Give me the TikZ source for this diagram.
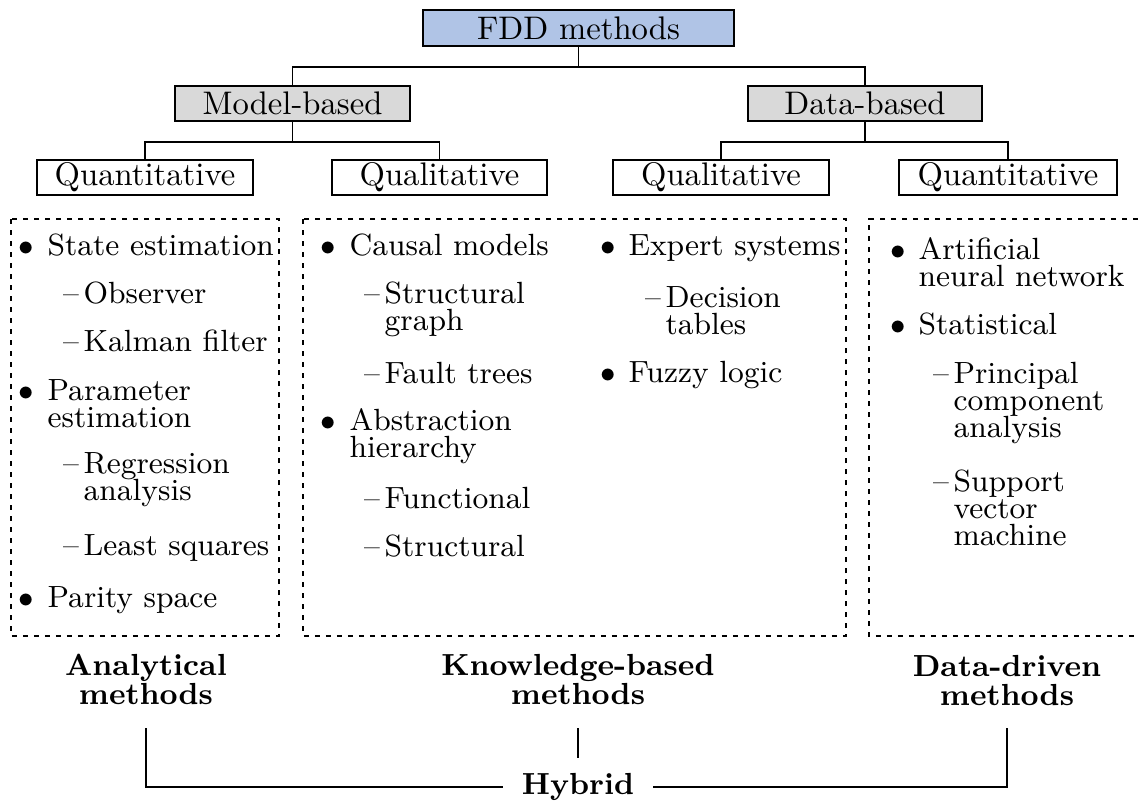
\documentclass[tikz,border=0pt]{standalone}
\usetikzlibrary{calc}
\definecolor{fddblue}{RGB}{176,196,230}
\definecolor{groupgray}{RGB}{217,217,217}
% lines of one list entry, stacked with a fixed baseline distance
\newcommand\stack[1]{\vtop{\baselineskip=8.1pt\lineskiplimit=-100pt\lineskip=0pt\halign{##\hfil\cr#1\crcr}}}
\begin{document}
\begin{tikzpicture}[x=0.3pt,y=-0.3pt,
  box/.style={draw,line width=0.6pt,inner sep=0pt,font=\fontsize{9.8}{11}\selectfont},
  rootbox/.style={box,fill=fddblue,minimum width=93.3pt,minimum height=10.8pt},
  familybox/.style={box,fill=groupgray,minimum width=70.4pt,minimum height=10.5pt},
  kindbox/.style={box,fill=white,minimum height=10.5pt},
  link/.style={line width=0.5pt},
  group/.style={line width=0.5pt,dash pattern=on 1.6pt off 1.7pt},
  itm/.style={anchor=base west,inner sep=0pt,font=\fontsize{9.2}{8.1}\selectfont},
  bulletmark/.style={anchor=base,inner sep=0pt,font=\fontsize{9.2}{8.1}\selectfont},
  cat/.style={inner sep=0pt,align=center,font=\fontsize{9.15}{8.7}\selectfont\bfseries}]
\useasboundingbox (0,0) rectangle (1138,800);

% ---- tree of method families
\node[rootbox] (fdd) at (578.5,28) {FDD methods};
\node[familybox] (mb) at (292.5,103.5) {Model-based};
\node[familybox] (db) at (865,103.5) {Data-based};
\node[kindbox,minimum width=64.8pt] (q1) at (145,177.5) {Quantitative};
\node[kindbox,minimum width=64.5pt] (l1) at (439.5,177.5) {Qualitative};
\node[kindbox,minimum width=64.8pt] (l2) at (721,177.5) {Qualitative};
\node[kindbox,minimum width=65.4pt] (q2) at (1008,177.5) {Quantitative};

\draw[link] (fdd.south) -- ++(0,20) coordinate (j0);
\draw[link] (j0) -| (mb.north);
\draw[link] (j0) -| (db.north);
\draw[link] (mb.south) -- ++(0,20) coordinate (j1);
\draw[link] (j1) -| (q1.north);
\draw[link] (j1) -| (l1.north);
\draw[link] (db.south) -- ++(0,20) coordinate (j2);
\draw[link] (j2) -| (l2.north);
\draw[link] (j2) -| (q2.north);

% ---- groups of methods
\draw[group] (11,219) rectangle (279,636);
\draw[group] (303,219) rectangle (846,636);
\draw[group] (1138,219) -- (869,219) -- (869,636) -- (1138,636);

% analytical methods
\node[bulletmark] (ab1) at (26,255) {$\bullet$};
\node[itm] (a1) at (47,255) {State estimation};
\node[bulletmark] (ad1) at (71,303) {\textendash};
\node[itm] (a11) at (83,303) {Observer};
\node[bulletmark] (ad2) at (71,351) {\textendash};
\node[itm] (a12) at (83,351) {Kalman filter};
\node[bulletmark] (ab2) at (26,400) {$\bullet$};
\node[itm] (a2) at (47,400) {\stack{Parameter\cr estimation}};
\node[bulletmark] (ad3) at (71,473) {\textendash};
\node[itm] (a21) at (83,473) {\stack{Regression\cr analysis}};
\node[bulletmark] (ad4) at (71,555) {\textendash};
\node[itm] (a22) at (83,555) {Least squares};
\node[bulletmark] (ab3) at (26,607) {$\bullet$};
\node[itm] (a3) at (47,607) {Parity space};

% knowledge-based methods, first column
\node[bulletmark] (kb1) at (328,255) {$\bullet$};
\node[itm] (k1) at (349,255) {Causal models};
\node[bulletmark] (kd1) at (372,303) {\textendash};
\node[itm] (k11) at (384,303) {\stack{Structural\cr graph}};
\node[bulletmark] (kd2) at (372,383) {\textendash};
\node[itm] (k12) at (384,383) {Fault trees};
\node[bulletmark] (kb2) at (328,430) {$\bullet$};
\node[itm] (k2) at (349,430) {\stack{Abstraction\cr hierarchy}};
\node[bulletmark] (kd3) at (372,508) {\textendash};
\node[itm] (k21) at (384,508) {Functional};
\node[bulletmark] (kd4) at (372,556) {\textendash};
\node[itm] (k22) at (384,556) {Structural};

% knowledge-based methods, second column
\node[bulletmark] (eb1) at (608,255) {$\bullet$};
\node[itm] (e1) at (628,255) {Expert systems};
\node[bulletmark] (ed1) at (653,307) {\textendash};
\node[itm] (e11) at (665,307) {\stack{Decision\cr tables}};
\node[bulletmark] (eb2) at (608,382) {$\bullet$};
\node[itm] (e2) at (628,382) {Fuzzy logic};

% data-driven methods
\node[bulletmark] (db1) at (898,259) {$\bullet$};
\node[itm] (d1) at (918,259) {\stack{Artificial\cr neural network}};
\node[bulletmark] (db2) at (898,334) {$\bullet$};
\node[itm] (d2) at (918,334) {Statistical};
\node[bulletmark] (dd1) at (941,383) {\textendash};
\node[itm] (d21) at (953,383) {\stack{Principal\cr component\cr analysis}};
\node[bulletmark] (dd2) at (941,491) {\textendash};
\node[itm] (d22) at (953,491) {\stack{Support\cr vector\cr machine}};

% ---- group captions and the hybrid bracket
\node[cat] (anl) at (146,679) {Analytical\\methods};
\node[cat] (knw) at (578,679) {Knowledge-based\\methods};
\node[cat] (dat) at (1007,680) {Data-driven\\methods};
\node[cat,inner xsep=5.5pt] (hyb) at (578,787) {Hybrid};

\coordinate (ha) at (146,728);
\coordinate (hk) at (578,728);
\coordinate (hd) at (1007,728);
\coordinate (hk2) at (578,758);
\draw[link] (ha) |- (hyb.west);
\draw[link] (hd) |- (hyb.east);
\draw[link] (hk) -- (hk2);
\end{tikzpicture}
\end{document}
